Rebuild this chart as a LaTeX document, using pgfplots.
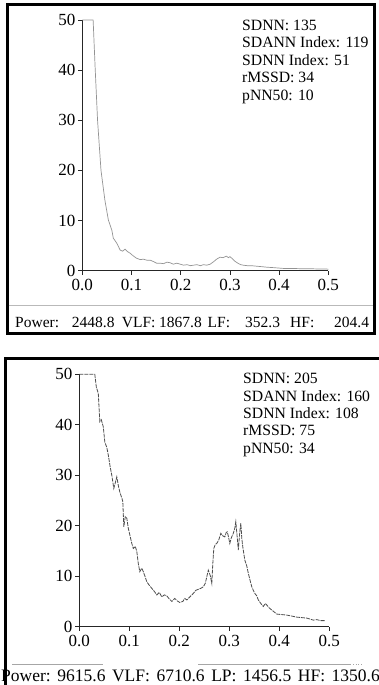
\documentclass[border=0pt]{standalone}
\usepackage{fontspec}
\setmainfont{Liberation Serif}
\usepackage{pgfplots}
\pgfplotsset{compat=1.18}
\pgfplotsset{hrvstyle/.style={
  scale only axis, xmin=0, xmax=0.5, ymin=0, ymax=50,
  axis lines=left, axis line style={-, line width=1.1pt, black!85},
  xtick={0,0.1,0.2,0.3,0.4,0.5}, ytick={0,10,20,30,40,50},
  tick align=outside, major tick length=4pt,
  tick style={black!85, line width=0.8pt},
  /pgf/number format/assume math mode=true,
  tick label style={font=\fontsize{17}{17}\selectfont},
  xticklabel style={/pgf/number format/.cd, fixed, fixed zerofill, precision=1},
  xticklabel shift=1pt, yticklabel shift=-0.5pt,
  clip=false,
}}
\begin{document}
\begin{tikzpicture}[x=1pt,y=1pt]
\path[use as bounding box] (0,0) rectangle (379,685);
% top panel frame
\draw[line width=3pt] (7,680) rectangle (374,351.5);
\draw[gray!55, line width=1pt] (8.5,379) -- (372.5,379);
% bottom panel frame
\draw[line width=3pt] (5,0) -- (5,326) -- (379,326);
\draw[gray!70, line width=0.8pt] (12,21) -- (103,21);
\draw[gray!70, line width=0.8pt] (198,21) -- (350,21);
\draw[gray!70, line width=0.8pt, dotted] (350,21) -- (363,21);

\begin{axis}[hrvstyle, at={(82.3pt,414.3pt)}, anchor=south west,
  width=246pt, height=250.7pt]
\addplot[gray!85, line width=0.7pt] coordinates {
(0,50) (0.022,50) (0.026,40.7) (0.031,30) (0.038,20) (0.046,14) (0.053,10.1)
(0.060,8.1) (0.063,6.5) (0.070,5.5) (0.077,4.1) (0.082,3.9) (0.087,4.3)
(0.092,3.8) (0.097,3.5) (0.103,3.0) (0.110,2.5) (0.118,2.2) (0.124,2.3)
(0.131,2.1) (0.138,2.1) (0.145,1.8) (0.151,1.5) (0.158,1.5) (0.165,1.4)
(0.172,1.7) (0.178,1.6) (0.185,1.3) (0.192,1.5) (0.199,1.3) (0.206,1.1)
(0.213,1.2) (0.220,1.0) (0.226,1.1) (0.233,1.2) (0.240,1.0) (0.246,1.2)
(0.253,1.1) (0.260,1.3) (0.267,1.8) (0.273,2.3) (0.280,2.7) (0.286,2.6)
(0.293,2.9) (0.297,2.6) (0.300,2.8) (0.305,2.4) (0.310,1.9) (0.316,1.5)
(0.322,1.2) (0.327,1.1) (0.335,1.0) (0.344,1.0) (0.354,0.9) (0.365,0.8)
(0.375,0.7) (0.390,0.6) (0.409,0.45) (0.425,0.45) (0.443,0.4) (0.460,0.4)
(0.477,0.35) (0.493,0.35) (0.5,0.3)
};
\end{axis}

\begin{axis}[hrvstyle, at={(79.3pt,58.3pt)}, anchor=south west,
  width=250pt, height=252.4pt]
\addplot[black!70, line width=0.8pt, dash pattern=on 4pt off 1pt] coordinates {
(0,50) (0.031,50) (0.034,47.5) (0.038,46.2) (0.041,40.6) (0.044,41) (0.048,39.6)
(0.051,36.6) (0.055,35.5) (0.058,34.0) (0.062,31.5) (0.065,30.0) (0.069,27.4)
(0.072,28.5) (0.075,29.7) (0.078,28) (0.081,26.7) (0.085,25.5) (0.087,24.8)
(0.089,19.8) (0.092,21.8) (0.095,21.5) (0.098,19.5) (0.101,18.2) (0.105,16.5)
(0.108,15.5) (0.112,15.9) (0.115,14.9) (0.118,12.5) (0.121,10.9) (0.125,11.6)
(0.128,10.9) (0.132,9.8) (0.135,8.9) (0.140,8.2) (0.145,7.6) (0.150,7.0)
(0.155,6.3) (0.160,6.8) (0.165,5.9) (0.170,6.3) (0.175,6.1) (0.180,5.5)
(0.185,5.0) (0.191,5.6) (0.196,5.1) (0.201,4.8) (0.207,5.0) (0.211,5.6)
(0.215,5.3) (0.220,5.8) (0.225,6.3) (0.228,6.6) (0.233,7.2) (0.238,7.4)
(0.243,7.6) (0.248,7.9) (0.252,8.6) (0.255,9.9) (0.258,11.2) (0.262,10.1)
(0.265,8.6) (0.267,12.5) (0.269,15.5) (0.272,16.3) (0.275,16.5) (0.279,17.2)
(0.283,18.5) (0.287,18.0) (0.291,17.8) (0.294,18.7) (0.296,18.8) (0.299,17.5)
(0.301,16.5) (0.304,17.6) (0.308,18.5) (0.311,19.5) (0.313,20.8) (0.316,17.5)
(0.318,15.2) (0.321,18.8) (0.323,20.5) (0.325,17.5) (0.327,15.8) (0.331,13.2)
(0.335,12.0) (0.338,10.6) (0.342,9.0) (0.345,7.9) (0.348,7.2) (0.351,6.6)
(0.355,6.1) (0.358,5.3) (0.363,4.6) (0.368,4.0) (0.372,4.6) (0.375,4.3)
(0.380,3.7) (0.385,3.3) (0.390,2.9) (0.395,2.5) (0.405,2.4) (0.415,2.3)
(0.425,2.1) (0.435,1.9) (0.445,1.8) (0.455,1.7) (0.462,1.5) (0.468,1.3)
(0.475,1.4) (0.483,1.2) (0.491,1.2)
};
\end{axis}

% stats text
\begin{scope}[every node/.style={anchor=base west, inner sep=0pt, font=\fontsize{15.7}{15.7}\selectfont}]
\node at (242,654.5) {SDNN: 135};
\node at (242,637) {SDANN Index: 119};
\node at (242,619.5) {SDNN Index: 51};
\node at (242,602) {rMSSD: 34};
\node at (242,584.5) {pNN50: 10};
\node at (243,301) {SDNN: 205};
\node at (243,283.7) {SDANN Index: 160};
\node at (243,266.4) {SDNN Index: 108};
\node at (243,249) {rMSSD: 75};
\node at (243,231.7) {pNN50: 34};
\end{scope}
% top info line
\begin{scope}[every node/.style={anchor=base west, inner sep=0pt, font=\fontsize{15.5}{15.5}\selectfont}]
\node at (15,357.3) {Power:};
\node at (71.7,357.3) {2448.8};
\node at (121.7,357.3) {VLF:};
\node at (159,357.3) {1867.8};
\node at (207.5,357.3) {LF:};
\node at (245,357.3) {352.3};
\node at (290,357.3) {HF:};
\node at (334,357.3) {204.4};
\end{scope}
% bottom info line
\begin{scope}[every node/.style={anchor=base west, inner sep=0pt, font=\fontsize{17.5}{17.5}\selectfont}]
\node at (1,3) {Power:};
\node at (57.2,3) {9615.6};
\node at (111.9,3) {VLF:};
\node at (156.4,3) {6710.6};
\node at (211.1,3) {LP:};
\node at (243,3) {1456.5};
\node at (297.7,3) {HF:};
\node at (331.5,3) {1350.6};
\end{scope}
\end{tikzpicture}
\end{document}
